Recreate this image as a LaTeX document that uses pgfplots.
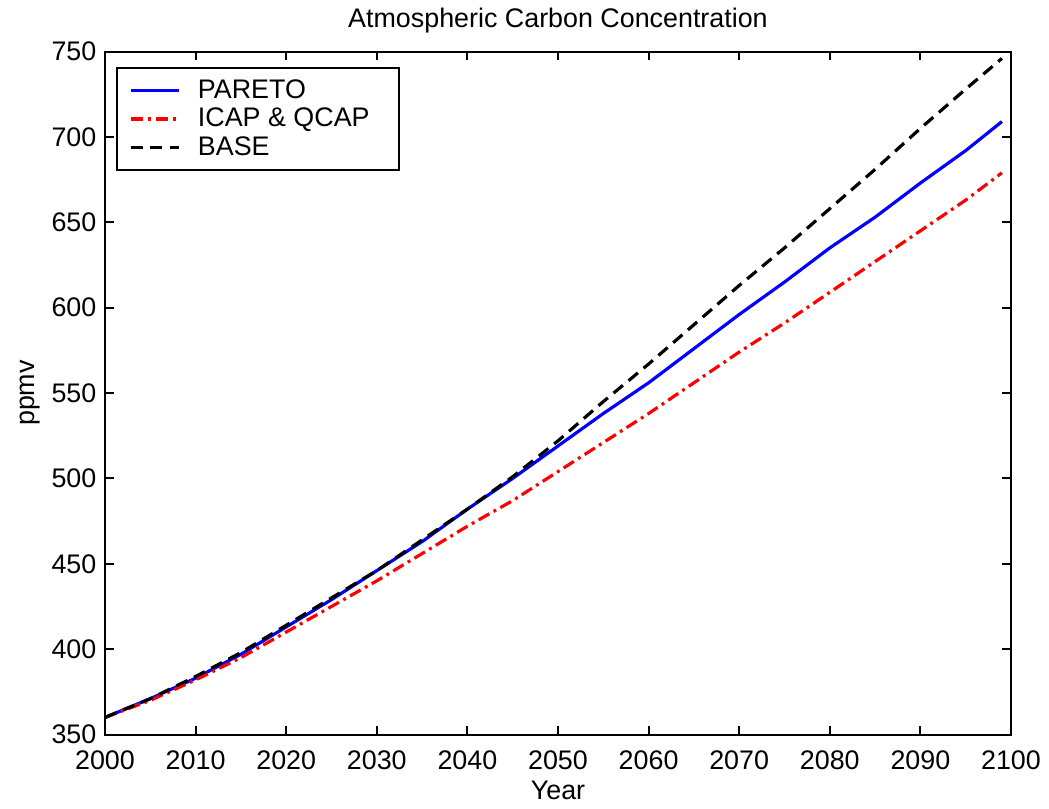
\documentclass[border=0pt]{standalone}
\usepackage{pgfplots}
\pgfplotsset{compat=1.18}
\usepackage{fontspec}
\setmainfont{Liberation Sans}

\pgfplotstableread{
year pareto icap base
2000 360 360 360
2005 371 370 371
2010 383 382 384
2015 397 395 398
2020 413 410 414
2025 429 425 430
2030 446 440 446
2035 463 456 464
2040 482 472 482
2045 500 487 501
2050 519 504 522
2055 538 521 545
2060 556 538 567
2065 576 556 590
2070 596 574 613
2075 615 591 635
2080 635 609 658
2085 653 627 681
2090 673 645 705
2095 692 663 728
2099 709 679 746
}\carbon

\begin{document}
\begin{tikzpicture}
\begin{axis}[
    scale only axis,
    width=13.04cm, height=9.83cm,
    xmin=2000, xmax=2100,
    ymin=350, ymax=750,
    xtick={2000,2010,...,2100},
    ytick={350,400,...,750},
    /pgf/number format/1000 sep={},
    /pgf/number format/assume math mode=true,
    tick align=inside,
    major tick length=3.5pt,
    axis line style={line width=0.8pt},
    every tick/.style={line width=0.8pt, black},
    font=\fontsize{11}{13}\selectfont,
    title={Atmospheric Carbon Concentration},
    title style={yshift=-2pt},
    xlabel={Year},
    ylabel={ppmv},
    xticklabel style={yshift=-3pt},
    xlabel style={yshift=2pt},
    ylabel style={yshift=-2pt},
    legend style={at={(0.012,0.977)}, anchor=north west, draw=black,
        line width=0.8pt, font=\fontsize{11}{13}\selectfont,
        inner xsep=5pt, inner ysep=2.5pt, row sep=-1.5pt,
        nodes={inner xsep=7pt}},
    legend cell align=left,
    legend image code/.code={\draw[#1] (0cm,0cm) -- (0.7cm,0cm);},
]
\addplot[blue, line width=1.3pt] table[x=year, y=pareto] {\carbon};
\addplot[red, line width=1.3pt, dash pattern=on 5pt off 2pt on 1.2pt off 2pt] table[x=year, y=icap] {\carbon};
\addplot[black, line width=1.3pt, dash pattern=on 5pt off 3pt] table[x=year, y=base] {\carbon};
\legend{PARETO, ICAP \& QCAP, BASE}
\end{axis}
\path (current axis.south west) ++(-43pt,-27.6pt) coordinate (bbsw);
\path (current axis.north east) ++(12pt,19pt) coordinate (bbne);
\path (bbsw) rectangle (bbne);
\end{tikzpicture}
\end{document}
